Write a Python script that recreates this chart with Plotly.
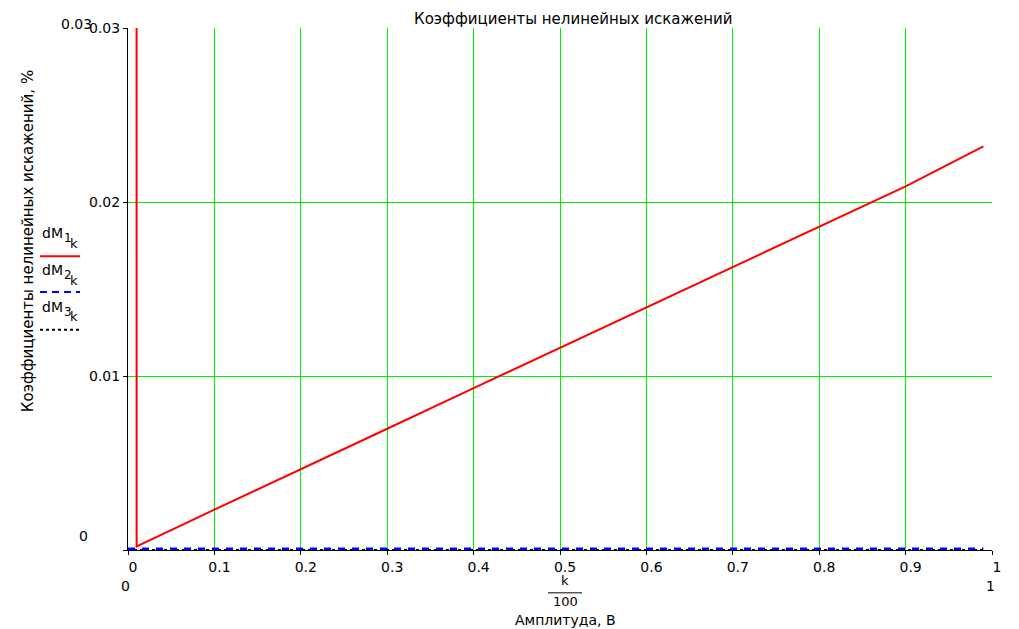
import plotly.graph_objects as go

# ---- data ----
amp_dm1 = [0.0, 0.01, 0.1, 0.2, 0.3, 0.4, 0.5, 0.6, 0.7, 0.8, 0.9, 0.99]
dm1 = [5.0, 0.0002, 0.00232, 0.00463, 0.00697, 0.0093, 0.01162, 0.01395, 0.01627, 0.0186, 0.0209, 0.0232]
amp_other = [0.0, 0.99]
dm2 = [0.0, 0.0]
dm3 = [0.0, 0.0]

x_ticks = [0, 0.1, 0.2, 0.3, 0.4, 0.5, 0.6, 0.7, 0.8, 0.9, 1]
x_tick_text = ["0", "0.1", "0.2", "0.3", "0.4", "0.5", "0.6", "0.7", "0.8", "0.9", "1"]
y_ticks = [0, 0.01, 0.02, 0.03]
y_tick_text = ["", "0.01", "0.02", "0.03"]

# screen geometry (page has an 8px body margin)
OFF = 8
SW, SH = 1019, 629
PL, PR, PT, PB = 128, 992, 26, 550   # plot area in screen pixels
PW, PH = PR - PL, PB - PT

def px(x):
    return (x - PL) / PW

def py(y):
    return (PB - y) / PH

FONT = "DejaVu Sans, Verdana, sans-serif"

fig = go.Figure()
fig.add_trace(go.Scatter(x=amp_other, y=dm3, mode="lines",
                         line=dict(color="black", width=2, dash="dot"), showlegend=False))
fig.add_trace(go.Scatter(x=amp_other, y=dm2, mode="lines",
                         line=dict(color="#0000ff", width=5, dash="7px,7px"), showlegend=False))
fig.add_trace(go.Scatter(x=amp_dm1, y=dm1, mode="lines",
                         line=dict(color="#ff0000", width=2), showlegend=False))

fig.update_layout(
    width=SW - OFF, height=SH - OFF,
    margin=dict(l=PL - OFF, r=SW - PR, t=PT - OFF, b=SH - PB, pad=0),
    paper_bgcolor="white", plot_bgcolor="white",
    font=dict(family=FONT, size=14, color="black"),
    xaxis=dict(range=[0, 1], tickvals=x_ticks, ticktext=x_tick_text,
               showgrid=True, gridcolor="#00f000", gridwidth=1,
               zeroline=False, showline=True, linecolor="black", linewidth=1,
               ticks="outside", ticklen=4, tickcolor="black", ticklabelshift=5,
               tickfont=dict(size=14)),
    yaxis=dict(range=[0, 0.03], tickvals=y_ticks, ticktext=y_tick_text,
               showgrid=True, gridcolor="#00f000", gridwidth=1,
               zeroline=False, showline=True, linecolor="black", linewidth=1,
               ticks="outside", ticklen=4, tickcolor="black",
               tickfont=dict(size=14)),
)

ann = []
def txt(x, y, s, size=14, xanchor="center", yanchor="middle", angle=0):
    ann.append(dict(x=px(x), y=py(y), xref="paper", yref="paper", text=s, showarrow=False,
                    xanchor=xanchor, yanchor=yanchor, textangle=angle,
                    font=dict(family=FONT, size=size, color="black")))

txt(573, 17, "Коэффициенты нелинейных искажений", size=15)
txt(28, 240, "Коэффициенты нелинейных искажений, %", size=15, angle=-90)
txt(83, 536, "0")
txt(76, 22, "0.03")
txt(125, 586, "0")
txt(990, 586, "1")
txt(565, 581, "k", size=13)
txt(565, 602, "100", size=13)
txt(565, 620, "Амплитуда, В", size=14)

# legend texts
for i, yy in enumerate([232, 269, 306]):
    txt(40, yy, "dM", xanchor="left")
    txt(62, yy + 5, str(i + 1), size=12, xanchor="left")
    txt(68, yy + 10, "k", size=13, xanchor="left")

fig.update_layout(annotations=ann)

shapes = [
    dict(type="line", xref="paper", yref="paper", x0=px(548), x1=px(582), y0=py(593), y1=py(593),
         line=dict(color="black", width=1)),
    dict(type="line", xref="paper", yref="paper", x0=px(40), x1=px(80), y0=py(255), y1=py(255),
         line=dict(color="#ff0000", width=2)),
    dict(type="line", xref="paper", yref="paper", x0=px(40), x1=px(80), y0=py(291), y1=py(291),
         line=dict(color="#0000ff", width=2, dash="7px,5px")),
    dict(type="line", xref="paper", yref="paper", x0=px(40), x1=px(80), y0=py(329), y1=py(329),
         line=dict(color="black", width=2, dash="dot")),
]
fig.update_layout(shapes=shapes)

fig.write_html("out.html")
